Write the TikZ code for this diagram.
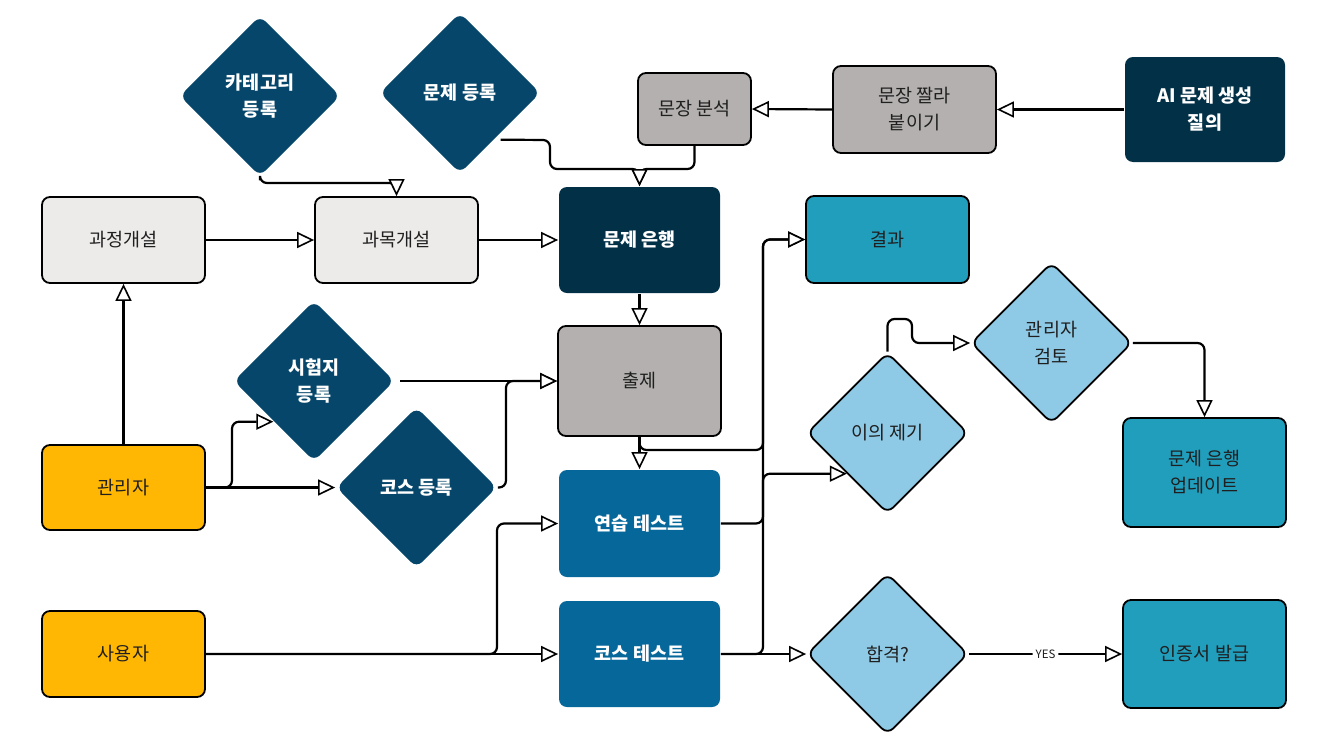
\documentclass[tikz,border=0pt]{standalone}
\usepackage{fontspec}
\setmainfont{Noto Sans CJK KR}
\usetikzlibrary{shapes.geometric,arrows.meta}
\definecolor{navy}{HTML}{023047}
\definecolor{diadark}{HTML}{06466A}
\definecolor{testblue}{HTML}{05679A}
\definecolor{teal}{HTML}{219EBC}
\definecolor{lblue}{HTML}{8ECAE6}
\definecolor{yell}{HTML}{FFB703}
\definecolor{lgray}{HTML}{EDEBEA}
\definecolor{mgray}{HTML}{B3B0AF}
\definecolor{txt}{HTML}{1F1F1F}
\tikzset{
  conn/.style={draw=black, line width=2.2pt, rounded corners=7pt,
    -{Triangle[length=17pt,width=16pt,fill=white,line width=1.6pt]}},
  box/.style={rectangle, rounded corners=8pt, line width=1.8pt, align=center,
    inner sep=2pt, text=txt, font=\fontsize{18.5}{27}\selectfont},
  lightbox/.style={box, draw=black},
  darkbox/.style={box, text=white, font=\fontsize{18.5}{27}\selectfont\bfseries},
  dia/.style={diamond, aspect=1, rounded corners=8pt, minimum width=161pt,
    minimum height=161pt, inner sep=0pt, align=center, line width=1.8pt,
    text=txt, font=\fontsize{18.5}{27}\selectfont},
  darkdia/.style={dia, fill=diadark, text=white, font=\fontsize{18.5}{27}\selectfont\bfseries},
  lightdia/.style={dia, fill=lblue, draw=black},
  yeslabel/.style={fill=white, inner sep=3pt, text=txt, font=\fontsize{11.5}{13}\selectfont}
}
\begin{document}
\begin{tikzpicture}[x=1pt,y=-1pt]
\useasboundingbox (0,0) rectangle (1327,753);
% boxes
\node[lightbox, fill=lgray, minimum width=163pt, minimum height=86pt] (gj) at (123.5,240) {과정개설};
\node[lightbox, fill=lgray, minimum width=163pt, minimum height=86pt] (gm) at (396.5,240) {과목개설};
\node[darkbox, fill=navy, minimum width=161pt, minimum height=106pt] (bank) at (639.5,240) {문제 은행};
\node[lightbox, fill=mgray, minimum width=163pt, minimum height=110pt] (cj) at (639.5,381) {출제};
\node[darkbox, fill=testblue, minimum width=161pt, minimum height=107pt] (ys) at (639.5,523.5) {연습 테스트};
\node[darkbox, fill=testblue, minimum width=161pt, minimum height=106pt] (ks) at (639.5,654) {코스 테스트};
\node[lightbox, fill=yell, minimum width=163pt, minimum height=85pt] (adm) at (123.5,487.5) {관리자};
\node[lightbox, fill=yell, minimum width=163pt, minimum height=86pt] (usr) at (123.5,654) {사용자};
\node[lightbox, fill=mgray, minimum width=113pt, minimum height=72pt] (mbs) at (694.5,109) {문장 분석};
\node[lightbox, fill=mgray, minimum width=163pt, minimum height=87pt] (jjb) at (914.5,109.5) {문장 짤라\\붙이기};
\node[darkbox, fill=navy, minimum width=160pt, minimum height=105pt] (ai) at (1205,109.5) {AI 문제 생성\\질의};
\node[lightbox, fill=teal, minimum width=163pt, minimum height=87pt] (res) at (887.5,239.5) {결과};
\node[lightbox, fill=teal, minimum width=163pt, minimum height=109pt] (upd) at (1204.5,472.5) {문제 은행\\업데이트};
\node[lightbox, fill=teal, minimum width=163pt, minimum height=108pt] (cert) at (1204.5,654) {인증서 발급};
% diamonds
\node[darkdia] (cat) at (260,96) {카테고리\\등록};
\node[darkdia] (mdr) at (460,93) {문제 등록};
\node[darkdia] (sj) at (314,381) {시험지\\등록};
\node[darkdia] (kd) at (416.5,487.5) {코스 등록};
\node[lightdia] (gt) at (1051.5,343) {관리자\\검토};
\node[lightdia] (ij) at (887.5,433) {이의 제기};
\node[lightdia] (hg) at (887.5,654) {합격?};
% connectors
\draw[conn] (gj.east) -- (gm.west);
\draw[conn] (gm.east) -- (bank.west);
\draw[conn] (adm.north) -- (gj.south);
\draw[conn] ([yshift=-3pt]cat.south) -- (260,183) -- (396.5,183) -- (gm.north);
\draw[conn] ([yshift=-6pt]mdr.south east) -- (550,140) -- (550,169) -- (639.5,169) -- (bank.north);
\draw[conn] (mbs.south) -- (694.5,169) -- (639.5,169) -- (bank.north);
\draw[conn] (jjb.west) -- (mbs.east);
\draw[conn] (ai.west) -- (jjb.east);
\draw[conn] (bank.south) -- (cj.north);
\draw[conn] ([xshift=5pt]sj.east) -- (cj.west);
\draw[conn] (kd.east) -- (506,487.5) -- (506,381) -- (cj.west);
\draw[conn] (cj.south) -- (ys.north);
\draw[conn] (cj.south) -- (639.5,450) -- (763,450) -- (763,239.5) -- (res.west);
\draw[conn] (ys.east) -- (763,523.5) -- (763,239.5) -- (res.west);
\draw[conn] (ks.east) -- (ks.east -| 763,0) -- (ij.south west -| 763,0) -- (ij.south west);
\draw[conn] (ks.east) -- (hg.west);
\draw[conn] (ij.north) -- (887.5,319) -- (912,319) -- (912,343) -- (gt.west);
\draw[conn] (gt.east) -- (1204.5,343) -- (upd.north);
\draw[conn] (hg.east) -- node[yeslabel] {YES} (cert.west);
\draw[conn] (adm.east) -- (232,487.5) -- (sj.south west -| 232,0) -- (sj.south west);
\draw[conn] (adm.east) -- (kd.west);
\draw[conn] (usr.east) -- (497,654) -- (497,523.5) -- (ys.west);
\draw[conn] (usr.east) -- (ks.west);
\end{tikzpicture}
\end{document}
